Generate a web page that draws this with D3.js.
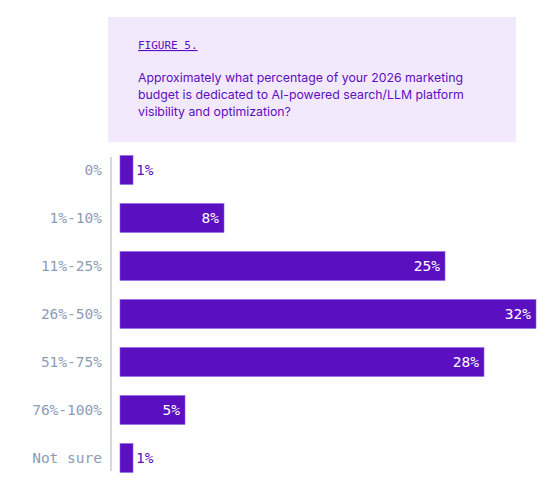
<!DOCTYPE html>
<html><head><meta charset="utf-8">
<script src="https://cdn.jsdelivr.net/npm/d3@7"></script>
<style>body{margin:0;background:#fff}</style>
</head><body><svg id="chart"></svg>
<script>
const categories = ["0%", "1%-10%", "11%-25%", "26%-50%", "51%-75%", "76%-100%", "Not sure"];
const values = [1, 8, 25, 32, 28, 5, 1];
const questionLines = [
  "Approximately what percentage of your 2026 marketing",
  "budget is dedicated to AI-powered search/LLM platform",
  "visibility and optimization?"
];

const svg = d3.select("#chart").attr("width", 558).attr("height", 490);
const mono = "'DejaVu Sans Mono', monospace";
const purple = "#5a0fc0";

// header panel
svg.append("rect").attr("x", 108).attr("y", 17).attr("width", 408).attr("height", 125).attr("fill", "#f3e9fd");
svg.append("text").attr("x", 138).attr("y", 49).attr("font-family", mono).attr("font-size", 11)
  .attr("fill", purple).attr("text-decoration", "underline").text("FIGURE 5.");
svg.selectAll(".q").data(questionLines).enter().append("text")
  .attr("x", 138).attr("y", (d, i) => 82 + i * 17)
  .attr("font-family", "Inter, sans-serif").attr("font-size", 12.3).attr("fill", purple).text(d => d);

// scales
const x = d3.scaleLinear().domain([0, 32]).range([120, 536]);
const y = d3.scaleBand().domain(categories).range([146, 482]).paddingInner(0.4).paddingOuter(0.2);

svg.append("line").attr("x1", 111).attr("x2", 111).attr("y1", 157).attr("y2", 471)
  .attr("stroke", "#d3d9e3").attr("stroke-width", 2);

svg.selectAll(".cat").data(categories).enter().append("text")
  .attr("x", 102).attr("y", d => y(d) + y.bandwidth() / 2).attr("dy", "0.35em")
  .attr("text-anchor", "end").attr("font-family", mono).attr("font-size", 14.5)
  .attr("fill", "#8d9bb6").text(d => d);

svg.selectAll(".bar").data(values).enter().append("rect")
  .attr("x", x(0)).attr("y", (d, i) => y(categories[i]))
  .attr("width", d => x(d) - x(0)).attr("height", y.bandwidth())
  .attr("fill", purple).attr("stroke", "#8a5ae0").attr("stroke-width", 0.6);

svg.selectAll(".val").data(values).enter().append("text")
  .attr("x", d => d < 3 ? x(d) + 3 : x(d) - 5)
  .attr("y", (d, i) => y(categories[i]) + y.bandwidth() / 2).attr("dy", "0.35em")
  .attr("text-anchor", d => d < 3 ? "start" : "end")
  .attr("font-family", mono).attr("font-size", 14.5)
  .attr("fill", d => d < 3 ? purple : "#fff").text(d => d + "%");
</script></body></html>
